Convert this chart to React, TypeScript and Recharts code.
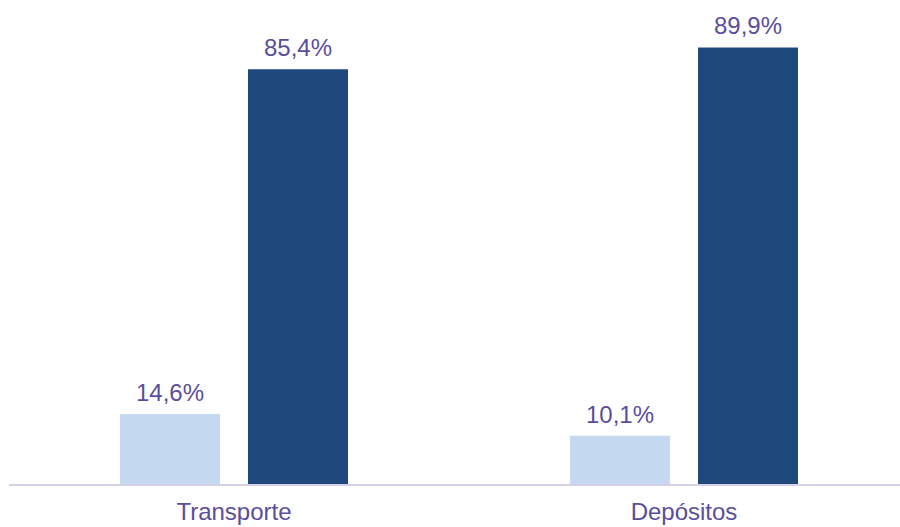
import { Bar, BarChart, LabelList, XAxis, YAxis } from "recharts";

const categories = ["Transporte", "Depósitos"];
const lightValues = [14.6, 10.1];
const darkValues = [85.4, 89.9];

const data = categories.map((name, i) => ({
  name,
  light: lightValues[i],
  dark: darkValues[i],
}));

const textColor = "#5a4e9c";
const font = "'Liberation Sans', Arial, sans-serif";

function formatPct(value: unknown) {
  return `${Number(value).toFixed(1).replace(".", ",")}%`;
}

export default function App() {
  return (
    <div
      style={{
        position: "absolute",
        left: 0,
        top: 0,
        width: 900,
        height: 527,
        overflow: "hidden",
        background: "#fff",
      }}
    >
      <BarChart
        width={909}
        height={527}
        data={data}
        margin={{ top: 8, right: 0, left: 9, bottom: 0 }}
        barSize={100}
        barGap={28}
        barCategoryGap={111}
      >
        <XAxis
          dataKey="name"
          height={42}
          axisLine={{ stroke: "#d6d1e6", strokeWidth: 2 }}
          tickLine={false}
          tickMargin={12}
          tick={{ fill: textColor, fontSize: 24, fontFamily: font }}
        />
        <YAxis hide domain={[0, 98]} />
        <Bar dataKey="light" fill="#c5d9f1" isAnimationActive={false}>
          <LabelList
            dataKey="light"
            position="top"
            offset={13}
            formatter={formatPct}
            fill={textColor}
            fontSize={24}
            fontFamily={font}
          />
        </Bar>
        <Bar dataKey="dark" fill="#1f497d" isAnimationActive={false}>
          <LabelList
            dataKey="dark"
            position="top"
            offset={13}
            formatter={formatPct}
            fill={textColor}
            fontSize={24}
            fontFamily={font}
          />
        </Bar>
      </BarChart>
    </div>
  );
}
